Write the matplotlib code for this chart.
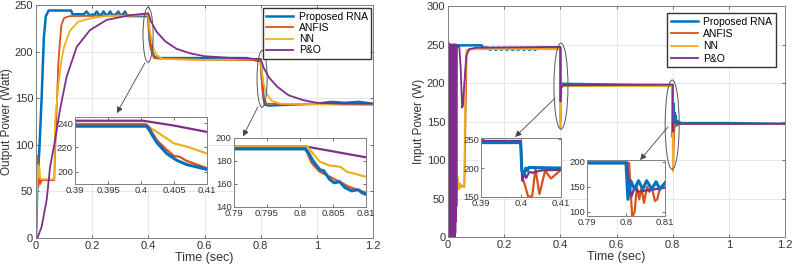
import matplotlib
matplotlib.use("Agg")
import matplotlib.pyplot as plt
from matplotlib.patches import Ellipse
from matplotlib.ticker import FuncFormatter

plt.rcParams['font.family'] = ['Liberation Sans', 'DejaVu Sans']

C_RNA, C_ANFIS, C_NN, C_PO = '#0072BD', '#D95319', '#EDB120', '#7E2F8E'
labels = ['Proposed RNA', 'ANFIS', 'NN', 'P&O']

# ---------------- Output power (left) ----------------
t_out_rna = [0, 0.005, 0.012, 0.02, 0.028, 0.035, 0.045, 0.125, 0.13, 0.17, 0.18, 0.19, 0.21,
             0.216, 0.225, 0.235, 0.24, 0.25, 0.258, 0.264, 0.272, 0.285, 0.293, 0.30, 0.31,
             0.317, 0.325, 0.4, 0.402, 0.405, 0.41, 0.42, 0.43, 0.6, 0.75, 0.79, 0.80, 0.805,
             0.81, 0.815, 0.83, 0.9, 1.0, 1.05, 1.1, 1.15, 1.2]
p_out_rna = [0, 60, 95, 150, 215, 238, 244, 244, 240, 240, 243, 239, 240,
             243, 239, 240, 243, 239, 240, 243, 239, 240, 243, 239, 240,
             243, 238, 238, 225, 212, 203, 195, 193, 193, 193, 190, 191, 170,
             151, 143, 142, 143, 144, 146, 145, 146, 144]

t_out_anfis = [0, 0.003, 0.005, 0.008, 0.011, 0.015, 0.02, 0.065, 0.07, 0.08, 0.09, 0.1, 0.12,
               0.4, 0.402, 0.405, 0.41, 0.42, 0.6, 0.8, 0.803, 0.806, 0.81, 0.82, 1.2]
p_out_anfis = [0, 50, 88, 55, 70, 58, 62, 62, 110, 190, 228, 236, 238,
               239, 226, 213, 203, 193, 191, 191, 171, 162, 152, 144, 143]

t_out_nn = [0, 0.003, 0.006, 0.009, 0.012, 0.015, 0.02, 0.065, 0.068, 0.08, 0.09, 0.1, 0.12,
            0.15, 0.2, 0.25, 0.4, 0.402, 0.405, 0.41, 0.42, 0.43, 0.45, 0.6, 0.8, 0.803,
            0.806, 0.81, 0.82, 0.84, 0.87, 1.2]
p_out_nn = [0, 45, 78, 65, 76, 64, 63, 63, 125, 165, 190, 205, 222,
            232, 236, 238, 239, 233, 223, 215, 202, 196, 192, 191, 192, 180,
            175, 166, 155, 147, 144, 143]

t_out_po = [0, 0.005, 0.02, 0.038, 0.05, 0.068, 0.085, 0.109, 0.145, 0.192, 0.252, 0.335, 0.4,
            0.41, 0.43, 0.46, 0.5, 0.55, 0.6, 0.7, 0.8, 0.81, 0.83, 0.86, 0.9, 0.95, 1.0, 1.1, 1.2]
p_out_po = [0, 0, 12, 41, 76, 105, 137, 173, 205, 223, 234, 239, 241,
            232, 221, 211, 203, 198, 195, 193, 192, 183, 172, 162, 153, 148, 145, 144, 144]

# left inset 1 (0.39-0.41)
ti1_rna = [0.39, 0.4008, 0.4012, 0.4016, 0.4024, 0.4039, 0.4054, 0.4069, 0.41]
pi1_rna = [237.5, 237.5, 235, 231, 224, 215, 209.5, 206, 202]
ti1_anfis = [0.39, 0.4008, 0.4012, 0.4016, 0.4024, 0.4039, 0.405, 0.4058, 0.4069, 0.41]
pi1_anfis = [239, 239, 237, 233, 226, 218, 213, 212.5, 209, 203]
ti1_nn = [0.39, 0.4005, 0.401, 0.4024, 0.405, 0.4071, 0.41]
pi1_nn = [239.5, 239.5, 237.5, 232.8, 223.3, 220.5, 215]
ti1_po = [0.39, 0.4003, 0.405, 0.41]
pi1_po = [242, 242, 238, 232.8]

# left inset 2 (0.79-0.81)
ti2_rna = [0.79, 0.8008, 0.8012, 0.802, 0.803, 0.8036, 0.8045, 0.8052, 0.806, 0.8068, 0.8078,
           0.8088, 0.8095, 0.81]
pi2_rna = [190.5, 190.5, 188, 180, 172.5, 171.5, 164, 161, 162, 157, 154, 155, 152, 151]
ti2_anfis = [0.79, 0.8008, 0.8018, 0.803, 0.8045, 0.806, 0.8074, 0.81]
pi2_anfis = [191, 191, 178, 170.7, 166.3, 162, 157.6, 152.4]
ti2_nn = [0.79, 0.8012, 0.803, 0.8045, 0.8061, 0.8071, 0.81]
pi2_nn = [192, 192, 179.4, 176, 175, 170.7, 166.3]
ti2_po = [0.79, 0.801, 0.81]
pi2_po = [192.5, 192.5, 183.2]

# ---------------- Input power (right) ----------------
t_in_rna = [0, 0.005, 0.12, 0.125, 0.14, 0.15, 0.16, 0.17, 0.18, 0.19, 0.2, 0.21, 0.22, 0.23,
            0.24, 0.25, 0.26, 0.27, 0.28, 0.29, 0.30, 0.31, 0.32, 0.33, 0.4, 0.4005, 0.401,
            0.402, 0.405, 0.6, 0.8, 0.8005, 0.802, 0.804, 0.806, 0.808, 0.81, 0.815, 0.82,
            0.83, 1.0, 1.2]
p_in_rna = [253, 249, 249, 246, 246, 243, 246, 243, 246, 243, 246, 243, 246, 243,
            246, 243, 246, 243, 246, 243, 246, 243, 246, 246, 246, 190, 204,
            199, 199, 198, 197, 130, 174, 140, 162, 145, 158, 145, 150,
            148, 148, 147]

t_in_anfis = [0, 0.005, 0.01, 0.015, 0.02, 0.025, 0.03, 0.058, 0.062, 0.066, 0.08, 0.4, 0.4005,
              0.401, 0.403, 0.41, 0.8, 0.8005, 0.802, 0.805, 0.81, 1.2]
p_in_anfis = [0, 200, 30, 220, 10, 150, 70, 65, 150, 240, 244, 245, 160,
              150, 195, 196, 197, 110, 95, 140, 147, 147]

t_in_nn = [0, 0.02, 0.025, 0.03, 0.034, 0.038, 0.042, 0.046, 0.05, 0.058, 0.061, 0.066, 0.08,
           0.4, 0.4004, 0.401, 0.403, 0.41, 0.8, 0.8004, 0.801, 0.803, 0.81, 1.2]
p_in_nn = [0, 0, 96, 58, 78, 62, 70, 64, 66, 65, 200, 243, 244,
           244, 141, 190, 196, 196, 196, 85, 140, 146, 147, 147]

t_in_po = [0, 0.001, 0.002, 0.003, 0.004, 0.005, 0.006, 0.007, 0.008, 0.009, 0.010, 0.011,
           0.012, 0.013, 0.014, 0.015, 0.016, 0.017, 0.018, 0.019, 0.020, 0.021, 0.022, 0.023,
           0.024, 0.025, 0.026, 0.027, 0.028, 0.029, 0.030, 0.031, 0.04, 0.045, 0.05, 0.053,
           0.058, 0.065, 0.075, 0.1, 0.4, 0.4004, 0.401, 0.403, 0.41, 0.8, 0.8004, 0.801, 0.805,
           0.82, 1.2]
p_in_po = [0, 250, 0, 250, 0, 250, 0, 250, 0, 250, 0, 250,
           0, 250, 0, 250, 0, 250, 0, 250, 0, 250, 0, 250,
           0, 250, 5, 250, 20, 250, 40, 248, 247, 220, 168, 170,
           200, 235, 244, 246, 247, 176, 190, 194, 197, 198, 137, 145, 148,
           147, 147]

# right inset 1 (0.39-0.41)
tj1_rna = [0.39, 0.3999, 0.4002, 0.4008, 0.4012, 0.4016, 0.402, 0.41]
pj1_rna = [244, 244, 195, 190, 200, 196, 201, 200]
tj1_anfis = [0.39, 0.3999, 0.4003, 0.401, 0.4018, 0.4028, 0.4036, 0.4046, 0.406, 0.4075, 0.41]
pj1_anfis = [246, 246, 185, 170, 150, 152, 199, 155, 195, 182, 197]
tj1_po = [0.39, 0.3999, 0.4003, 0.4008, 0.4013, 0.402, 0.403, 0.405, 0.41]
pj1_po = [247, 247, 178, 190, 183, 193, 192, 196, 197]

# right inset 2 (0.79-0.81)
tj2_rna = [0.79, 0.8, 0.8005, 0.8012, 0.8022, 0.8032, 0.8043, 0.8053, 0.8066, 0.8077, 0.8087, 0.81]
pj2_rna = [197, 197, 125, 162, 145, 162, 145, 162, 145, 160, 145, 158]
tj2_anfis = [0.79, 0.8008, 0.8012, 0.8016, 0.8022, 0.8028, 0.8034, 0.804, 0.8046, 0.8054,
             0.806, 0.8066, 0.8074, 0.808, 0.8088, 0.81]
pj2_anfis = [197, 197, 140, 89, 100, 150, 125, 148, 118, 150, 140, 150, 122, 125, 150, 148]
tj2_po = [0.79, 0.8003, 0.8008, 0.8015, 0.802, 0.8025, 0.803, 0.81]
pj2_po = [198, 198, 145, 132, 145, 148, 140, 148]

# ---------------- drawing ----------------
fig = plt.figure(figsize=(7.93, 2.71), dpi=100)
fmt = FuncFormatter(lambda v, p: '%g' % round(v, 6))


def style(ax, fs, grid=True):
    ax.tick_params(direction='in', top=True, right=True, labelsize=fs, colors='#333333',
                   length=2.5, width=0.5, pad=2)
    for s in ax.spines.values():
        s.set_color('#7f7f7f')
        s.set_linewidth(0.7)
    ax.xaxis.set_major_formatter(fmt)
    ax.yaxis.set_major_formatter(fmt)
    if grid:
        ax.grid(True, color='#e3e3e3', linewidth=0.6)
        ax.set_axisbelow(True)


def main_lines(ax, series, lwb=1.8, lw=1.3):
    for (t, p), c, lab in zip(series, [C_RNA, C_ANFIS, C_NN, C_PO], labels):
        ax.plot(t, p, color=c, lw=(lwb if c == C_RNA else lw), label=lab)


leg_kw = dict(fontsize=7.5, frameon=True, fancybox=False, edgecolor='#333333', framealpha=1,
              handlelength=2.6, handletextpad=0.5, borderpad=0.35, borderaxespad=0)

# Left main
axL = fig.add_axes([0.0454, 0.1218, 0.425, 0.86])
main_lines(axL, [(t_out_rna, p_out_rna), (t_out_anfis, p_out_anfis),
                 (t_out_nn, p_out_nn), (t_out_po, p_out_po)])
axL.set_xlim(0, 1.2)
axL.set_ylim(0, 250)
axL.set_xticks([0, 0.2, 0.4, 0.6, 0.8, 1, 1.2])
axL.set_yticks([0, 50, 100, 150, 200, 250])
style(axL, 8)
axL.set_xlabel('Time (sec)', fontsize=9, labelpad=1, color='#333333')
axL.set_ylabel('Output Power (Watt)', fontsize=8.5, labelpad=1, color='#333333')
axL.legend(loc='upper right', bbox_to_anchor=(0.995, 0.985), labelspacing=0.1, **leg_kw)

# Right main
axR = fig.add_axes([0.565, 0.1255, 0.425, 0.852])
main_lines(axR, [(t_in_rna, p_in_rna), (t_in_anfis, p_in_anfis),
                 (t_in_nn, p_in_nn), (t_in_po, p_in_po)])
axR.set_xlim(0, 1.2)
axR.set_ylim(0, 300)
axR.set_xticks([0, 0.2, 0.4, 0.6, 0.8, 1, 1.2])
axR.set_yticks([0, 50, 100, 150, 200, 250, 300])
style(axR, 8)
axR.set_xlabel('Time (sec)', fontsize=9, labelpad=1, color='#333333')
axR.set_ylabel('Input Power (W)', fontsize=8.5, labelpad=1, color='#333333')
axR.legend(loc='upper right', bbox_to_anchor=(0.973, 0.97), labelspacing=0.22, **leg_kw)

# Ellipses and arrows
arrow_kw = dict(arrowstyle='-|>', color='#444444', lw=0.6, mutation_scale=9,
                shrinkA=0, shrinkB=0)
for ax, ells, arrs in [
        (axL, [(0.399, 218, 0.036, 59), (0.805, 170.6, 0.036, 61)],
         [((0.388, 188), (0.288, 134)), ((0.79, 140.6), (0.737, 109))]),
        (axR, [(0.402, 196, 0.05, 112), (0.798, 146, 0.05, 116)],
         [((0.381, 180.5), (0.239, 130)), ((0.783, 143), (0.684, 100))])]:
    for (cx, cy, w, h) in ells:
        ax.add_patch(Ellipse((cx, cy), w, h, fill=False, ec='#555555', lw=0.7, zorder=5))
    for (a, b) in arrs:
        ax.annotate('', xy=b, xytext=a, arrowprops=arrow_kw, zorder=6)


def inset(rect, series, xlim, ylim, xticks, yticks, lwb=2.2, lw=1.6):
    ax = fig.add_axes(rect)
    for (t, p), c in series:
        ax.plot(t, p, color=c, lw=(lwb if c == C_RNA else lw))
    ax.set_xlim(*xlim)
    ax.set_ylim(*ylim)
    ax.set_xticks(xticks)
    ax.set_yticks(yticks)
    style(ax, 6.8, grid=False)
    ax.tick_params(pad=1.5)
    ax.set_facecolor('white')
    return ax


inset([0.0946, 0.321, 0.1665, 0.247],
      [((ti1_po, pi1_po), C_PO), ((ti1_nn, pi1_nn), C_NN),
       ((ti1_anfis, pi1_anfis), C_ANFIS), ((ti1_rna, pi1_rna), C_RNA)],
      (0.39, 0.41), (190, 245), [0.39, 0.395, 0.4, 0.405, 0.41], [200, 220, 240])
inset([0.295, 0.2362, 0.1665, 0.2546],
      [((ti2_po, pi2_po), C_PO), ((ti2_nn, pi2_nn), C_NN),
       ((ti2_anfis, pi2_anfis), C_ANFIS), ((ti2_rna, pi2_rna), C_RNA)],
      (0.79, 0.81), (140, 200), [0.79, 0.795, 0.8, 0.805, 0.81], [140, 160, 180, 200])
inset([0.6066, 0.2731, 0.1009, 0.2177],
      [((tj1_anfis, pj1_anfis), C_ANFIS), ((tj1_po, pj1_po), C_PO), ((tj1_rna, pj1_rna), C_RNA)],
      (0.39, 0.41), (150, 252), [0.39, 0.4, 0.41], [150, 200, 250])
inset([0.7402, 0.203, 0.0984, 0.2066],
      [((tj2_anfis, pj2_anfis), C_ANFIS), ((tj2_po, pj2_po), C_PO), ((tj2_rna, pj2_rna), C_RNA)],
      (0.79, 0.81), (92, 203), [0.79, 0.8, 0.81], [100, 150, 200])

fig.savefig('out.png', dpi=100)
